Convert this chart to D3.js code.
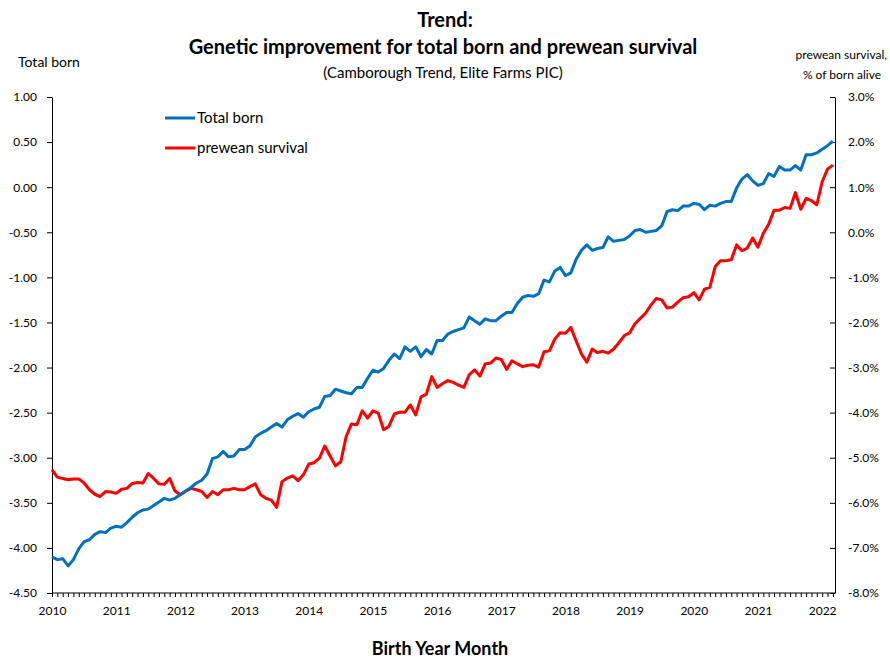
<!DOCTYPE html>
<html>
<head>
<meta charset="utf-8">
<script src="https://cdn.jsdelivr.net/npm/d3@7"></script>
<style>
  body { margin: 0; background: #fff; }
  text { font-family: Lato, "Open Sans", sans-serif; fill: #000; }
  .axis path, .axis line { stroke: #000; }
</style>
</head>
<body>
<div id="chart"></div>
<script>
// monthly values, Jan 2010 .. Mar 2022
const totalBorn = [
  -4.10, -4.13, -4.12, -4.20, -4.13, -4.01, -3.93, -3.91, -3.85, -3.82, -3.83, -3.78,
  -3.76, -3.77, -3.72, -3.66, -3.61, -3.58, -3.57, -3.53, -3.49, -3.45, -3.47, -3.45,
  -3.41, -3.37, -3.33, -3.28, -3.25, -3.18, -3.01, -2.99, -2.93, -2.99, -2.98, -2.91,
  -2.91, -2.87, -2.77, -2.73, -2.70, -2.66, -2.62, -2.66, -2.58, -2.54, -2.51, -2.55,
  -2.49, -2.46, -2.44, -2.32, -2.31, -2.24, -2.26, -2.28, -2.29, -2.22, -2.22, -2.12,
  -2.03, -2.05, -2.01, -1.92, -1.85, -1.90, -1.77, -1.82, -1.77, -1.88, -1.80, -1.85,
  -1.70, -1.70, -1.63, -1.60, -1.58, -1.56, -1.44, -1.48, -1.52, -1.46, -1.48, -1.48,
  -1.43, -1.39, -1.39, -1.29, -1.22, -1.20, -1.21, -1.18, -1.03, -1.05, -0.93, -0.89,
  -0.98, -0.95, -0.80, -0.70, -0.64, -0.70, -0.68, -0.67, -0.55, -0.60, -0.59, -0.58,
  -0.54, -0.48, -0.47, -0.50, -0.49, -0.48, -0.43, -0.27, -0.25, -0.26, -0.21, -0.21,
  -0.18, -0.19, -0.25, -0.20, -0.21, -0.18, -0.16, -0.16, -0.01, 0.09, 0.14, 0.07,
  0.02, 0.04, 0.15, 0.12, 0.23, 0.19, 0.19, 0.24, 0.19, 0.36, 0.36, 0.38,
  0.42, 0.46, 0.51
]

const preweanSurvival = [
  -5.27, -5.43, -5.46, -5.49, -5.47, -5.47, -5.56, -5.71, -5.81, -5.86, -5.75, -5.76,
  -5.79, -5.70, -5.68, -5.57, -5.55, -5.56, -5.35, -5.46, -5.58, -5.59, -5.46, -5.74,
  -5.82, -5.74, -5.68, -5.71, -5.75, -5.88, -5.75, -5.82, -5.71, -5.71, -5.68, -5.71,
  -5.71, -5.64, -5.58, -5.82, -5.90, -5.94, -6.10, -5.53, -5.45, -5.40, -5.51, -5.38,
  -5.14, -5.11, -5.01, -4.74, -4.96, -5.18, -5.09, -4.53, -4.25, -4.27, -3.96, -4.12,
  -3.96, -4.01, -4.38, -4.30, -4.03, -3.99, -3.99, -3.83, -4.05, -3.65, -3.59, -3.20,
  -3.44, -3.36, -3.29, -3.33, -3.39, -3.44, -3.16, -3.05, -3.19, -2.92, -2.90, -2.79,
  -2.82, -3.04, -2.85, -2.92, -2.98, -2.95, -2.94, -2.99, -2.65, -2.63, -2.37, -2.23,
  -2.24, -2.11, -2.41, -2.70, -2.88, -2.59, -2.67, -2.64, -2.68, -2.59, -2.45, -2.29,
  -2.23, -2.03, -1.91, -1.79, -1.61, -1.47, -1.50, -1.68, -1.66, -1.55, -1.45, -1.43,
  -1.34, -1.50, -1.26, -1.22, -0.76, -0.63, -0.63, -0.61, -0.28, -0.41, -0.35, -0.13,
  -0.33, -0.02, 0.18, 0.49, 0.49, 0.55, 0.53, 0.88, 0.51, 0.75, 0.70, 0.61,
  1.12, 1.40, 1.49
]

const yearLabels = [2010, 2011, 2012, 2013, 2014, 2015, 2016, 2017, 2018, 2019, 2020, 2021, 2022]
const leftTicks = [1.0, 0.5, 0.0, -0.5, -1.0, -1.5, -2.0, -2.5, -3.0, -3.5, -4.0, -4.5]
const rightTicks = [3, 2, 1, 0, -1, -2, -3, -4, -5, -6, -7, -8]
const seriesNames = ['Total born', 'prewean survival']
const seriesColors = ['#0070C0', '#FF0000']

const dms = {
  width: 890,
  height: 661,
  margin: { top: 97, right: 55, bottom: 68, left: 52 }
}
dms.contentWidth = dms.width - dms.margin.left - dms.margin.right
dms.contentHeight = dms.height - dms.margin.top - dms.margin.bottom

const svg = d3.select('#chart').append('svg')
  .attr('width', dms.width)
  .attr('height', dms.height)

const content = svg.append('g')
  .attr('transform', `translate(${dms.margin.left},${dms.margin.top})`)

const xScale = d3.scaleLinear()
  .domain([0, 146.4])
  .range([0, dms.contentWidth])

const leftScale = d3.scaleLinear()
  .domain([-4.5, 1])
  .range([dms.contentHeight, 0])

const rightScale = d3.scaleLinear()
  .domain([-8, 3])
  .range([dms.contentHeight, 0])

// axes
const leftAxis = content.append('g')
  .attr('class', 'axis')
  .call(d3.axisLeft(leftScale)
    .tickValues(leftTicks)
    .tickFormat(d => d.toFixed(2))
    .tickSize(5)
    .tickSizeOuter(0)
    .tickPadding(10))
leftAxis.selectAll('text').style('font-size', '12px').style('font-family', 'Lato, sans-serif')

const rightAxis = content.append('g')
  .attr('class', 'axis')
  .attr('transform', `translate(${dms.contentWidth},0)`)
  .call(d3.axisRight(rightScale)
    .tickValues(rightTicks)
    .tickFormat(d => d.toFixed(1) + '%')
    .tickSize(-5)
    .tickSizeOuter(0)
    .tickPadding(13))
rightAxis.selectAll('text').style('font-size', '12px').style('font-family', 'Lato, sans-serif')

const monthIdx = d3.range(0, totalBorn.length)
const xAxis = content.append('g')
  .attr('class', 'axis')
  .attr('transform', `translate(0,${dms.contentHeight})`)
  .call(d3.axisBottom(xScale)
    .tickValues(monthIdx)
    .tickFormat(i => i % 12 === 0 ? yearLabels[i / 12] : '')
    .tickSize(4)
    .tickSizeOuter(0)
    .tickPadding(9))
xAxis.select('.domain').attr('d', `M0,0H${dms.contentWidth}`)
xAxis.selectAll('text').style('font-size', '12px').style('font-family', 'Lato, sans-serif')

// lines
const lineLeft = d3.line()
  .x((d, i) => xScale(i))
  .y(d => leftScale(d))

const lineRight = d3.line()
  .x((d, i) => xScale(i))
  .y(d => rightScale(d))

content.append('path')
  .datum(preweanSurvival)
  .attr('fill', 'none')
  .attr('stroke', seriesColors[1])
  .attr('stroke-width', 3)
  .attr('stroke-linejoin', 'round')
  .attr('d', lineRight)

content.append('path')
  .datum(totalBorn)
  .attr('fill', 'none')
  .attr('stroke', seriesColors[0])
  .attr('stroke-width', 3)
  .attr('stroke-linejoin', 'round')
  .attr('d', lineLeft)

// legend
const legend = svg.append('g')
  .attr('transform', 'translate(165,118)')

seriesNames.forEach((name, i) => {
  const row = legend.append('g').attr('transform', `translate(0,${i * 30})`)
  row.append('line')
    .attr('x1', 0).attr('x2', 30)
    .attr('stroke', seriesColors[i])
    .attr('stroke-width', 3)
  row.append('text')
    .attr('x', 32)
    .attr('dy', '0.35em')
    .style('font-size', '15px')
    .text(name)
})

// titles
svg.append('text')
  .attr('x', 445).attr('y', 27)
  .attr('text-anchor', 'middle')
  .style('font-size', '20px')
  .style('font-weight', 'bold')
  .text('Trend:')

svg.append('text')
  .attr('x', 443).attr('y', 54)
  .attr('text-anchor', 'middle')
  .style('font-size', '20px')
  .style('font-weight', 'bold')
  .text('Genetic improvement for total born and prewean survival')

svg.append('text')
  .attr('x', 443).attr('y', 78)
  .attr('text-anchor', 'middle')
  .style('font-size', '15px')
  .text('(Camborough Trend, Elite Farms PIC)')

svg.append('text')
  .attr('x', 18).attr('y', 67)
  .style('font-size', '14px')
  .text('Total born')

svg.append('text')
  .attr('x', 887).attr('y', 59)
  .attr('text-anchor', 'end')
  .style('font-size', '12px')
  .text('prewean survival,')

svg.append('text')
  .attr('x', 881).attr('y', 79)
  .attr('text-anchor', 'end')
  .style('font-size', '12px')
  .text('% of born alive')

svg.append('text')
  .attr('x', 440).attr('y', 655)
  .attr('text-anchor', 'middle')
  .style('font-size', '18px')
  .style('font-weight', 'bold')
  .text('Birth Year Month')
</script>
</body>
</html>
